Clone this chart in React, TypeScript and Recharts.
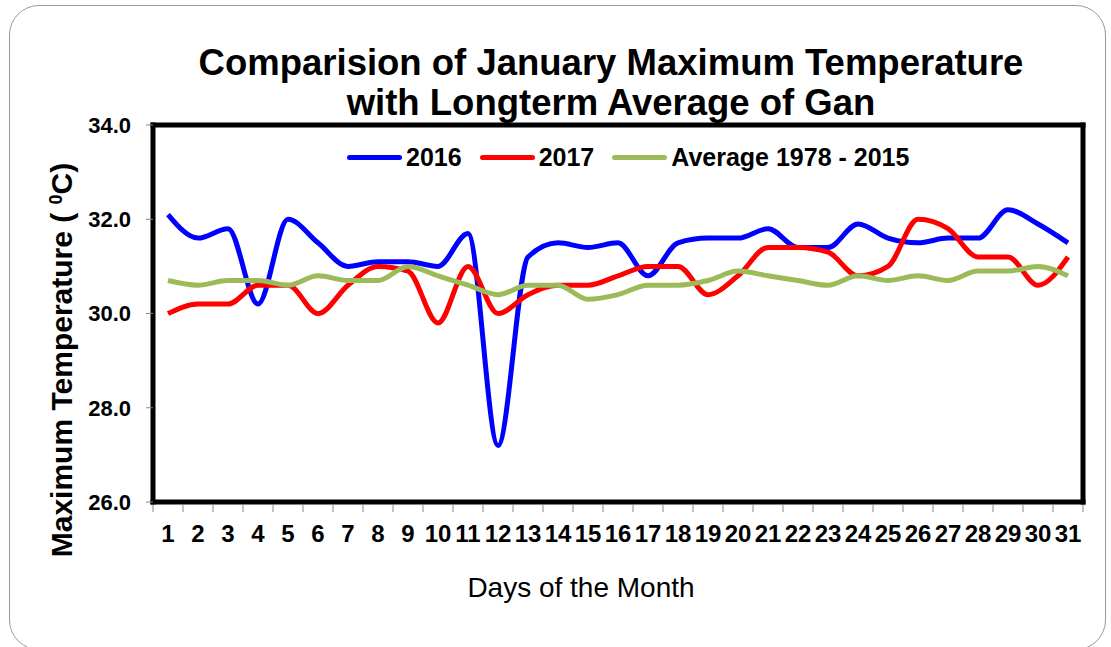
import React from 'react';
import { LineChart, Line, XAxis, YAxis } from 'recharts';

const days = Array.from({ length: 31 }, (_, i) => i + 1);
const t2016 = [32.1, 31.6, 31.8, 30.2, 32.0, 31.5, 31.0, 31.1, 31.1, 31.0, 31.7, 27.2, 31.2, 31.5, 31.4, 31.5, 30.8, 31.5, 31.6, 31.6, 31.8, 31.4, 31.4, 31.9, 31.6, 31.5, 31.6, 31.6, 32.2, 31.9, 31.5];
const t2017 = [30.0, 30.2, 30.2, 30.6, 30.6, 30.0, 30.6, 31.0, 30.9, 29.8, 31.0, 30.0, 30.4, 30.6, 30.6, 30.8, 31.0, 31.0, 30.4, 30.8, 31.4, 31.4, 31.3, 30.8, 31.0, 32.0, 31.8, 31.2, 31.2, 30.6, 31.2];
const tAvg = [30.7, 30.6, 30.7, 30.7, 30.6, 30.8, 30.7, 30.7, 31.0, 30.8, 30.6, 30.4, 30.6, 30.6, 30.3, 30.4, 30.6, 30.6, 30.7, 30.9, 30.8, 30.7, 30.6, 30.8, 30.7, 30.8, 30.7, 30.9, 30.9, 31.0, 30.8];
const yTicks = [26, 28, 30, 32, 34];
const seriesNames = ['2016', '2017', 'Average 1978 - 2015'];
const seriesColors = ['#0000FF', '#FF0000', '#9BBB59'];
const seriesKeys = ['y2016', 'y2017', 'avg'];

const data = days.map((d, i) => ({ day: d, y2016: t2016[i], y2017: t2017[i], avg: tAvg[i] }));
const xTicks: number[] = [];
for (let i = 0; i <= 31; i++) {
  xTicks.push(i + 0.5);
  if (i < 31) xTicks.push(i + 1);
}
xTicks.sort((a, b) => a - b);

const FONT = '"Liberation Sans", Arial, sans-serif';

const XTick = (props: any) => {
  const { x, y, payload } = props;
  const v = payload.value;
  if (Number.isInteger(v)) {
    return (
      <text x={x} y={y + 40} textAnchor="middle" fontFamily={FONT} fontWeight="bold" fontSize={24} fill="#000">
        {v}
      </text>
    );
  }
  return <line x1={x} x2={x} y1={y + 3} y2={y + 10} stroke="#888" strokeWidth={1} />;
};

const frameLine = { stroke: '#000', strokeWidth: 5, strokeLinecap: 'square' as const };

export default function App() {
  return (
    <div style={{ position: 'absolute', left: 0, top: 0, width: 1111, height: 647, background: '#fff', overflow: 'hidden' }}>
      <div
        style={{
          position: 'absolute',
          left: 9,
          top: 5,
          width: 1097,
          height: 645,
          border: '1px solid #9a9a9a',
          borderRadius: 30,
          boxSizing: 'border-box',
        }}
      />
      <div style={{ position: 'absolute', left: 0, top: 0 }}>
        <LineChart width={1111} height={647} data={data} margin={{ top: 124, right: 27, left: 0, bottom: 85 }}>
          <XAxis
            dataKey="day"
            type="number"
            domain={[0.5, 31.5]}
            ticks={xTicks}
            interval={0}
            tickSize={0}
            tickMargin={0}
            tickLine={false}
            tick={<XTick />}
            height={60}
            axisLine={frameLine}
          />
          <XAxis
            xAxisId="top"
            orientation="top"
            type="number"
            domain={[0.5, 31.5]}
            tick={false}
            tickLine={false}
            height={1}
            axisLine={frameLine}
          />
          <YAxis
            type="number"
            domain={[26, 34]}
            ticks={yTicks}
            interval={0}
            width={153}
            tickSize={7}
            tickMargin={15}
            tickLine={{ stroke: '#888' }}
            tickFormatter={(v: number) => v.toFixed(1)}
            tick={{ fontFamily: FONT, fontWeight: 'bold', fontSize: 22, fill: '#000' }}
            axisLine={frameLine}
          />
          <YAxis
            yAxisId="right"
            orientation="right"
            type="number"
            domain={[26, 34]}
            tick={false}
            tickLine={false}
            width={1}
            axisLine={frameLine}
          />
          {seriesKeys.map((k, i) => (
            <Line
              key={k}
              dataKey={k}
              name={seriesNames[i]}
              type="monotone"
              stroke={seriesColors[i]}
              strokeWidth={5}
              dot={false}
              activeDot={false}
              isAnimationActive={false}
            />
          ))}
        </LineChart>
      </div>
      <svg width={1111} height={647} style={{ position: 'absolute', left: 0, top: 0, pointerEvents: 'none' }}>
        <text x={611} y={75} textAnchor="middle" fontFamily={FONT} fontWeight="bold" fontSize={36.5} fill="#000">
          Comparision of January Maximum Temperature
        </text>
        <text x={611} y={115} textAnchor="middle" fontFamily={FONT} fontWeight="bold" fontSize={36.5} fill="#000">
          with Longterm Average of Gan
        </text>
        <text
          x={72}
          y={360}
          transform="rotate(-90, 72, 360)"
          textAnchor="middle"
          fontFamily={FONT}
          fontWeight="bold"
          fontSize={30}
          fill="#000"
        >
          {'Maximum Temperature ( '}
          <tspan fontSize={18} baselineShift="super">0</tspan>
          {'C)'}
        </text>
        <text x={581} y={597} textAnchor="middle" fontFamily={FONT} fontSize={28} fill="#000">
          Days of the Month
        </text>
      </svg>
      <div
        style={{
          position: 'absolute',
          left: 347,
          top: 143,
          display: 'flex',
          alignItems: 'center',
          fontFamily: FONT,
          fontWeight: 'bold',
          fontSize: 25,
          color: '#000',
          whiteSpace: 'nowrap',
        }}
      >
        {seriesNames.map((n, i) => (
          <div key={n} style={{ display: 'flex', alignItems: 'center', marginRight: 18 }}>
            <span style={{ display: 'inline-block', width: 55, height: 5, borderRadius: 3, background: seriesColors[i], marginRight: 4 }} />
            <span style={{ lineHeight: '28px' }}>{n}</span>
          </div>
        ))}
      </div>
    </div>
  );
}
